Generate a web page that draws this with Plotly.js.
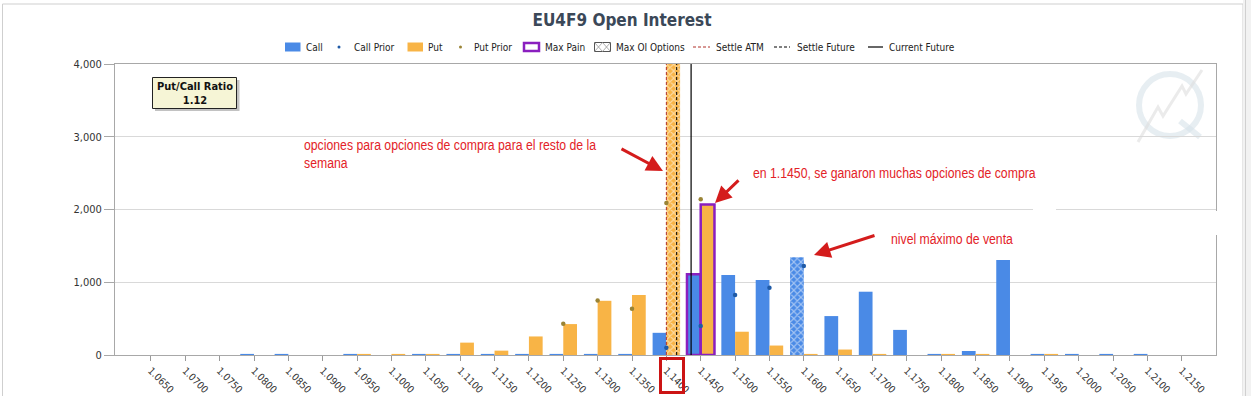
<!DOCTYPE html>
<html>
<head>
<meta charset="utf-8">
<script src="https://cdn.plot.ly/plotly-3.0.1.min.js"></script>
<style>
  html, body { margin: 0; padding: 0; background: #ffffff; }
  #chart { width: 1251px; height: 396px; }
</style>
</head>
<body>
<div id="chart"></div>
<script>
// ---------------- data ----------------
const strikes = [1.0650, 1.0700, 1.0750, 1.0800, 1.0850, 1.0900, 1.0950, 1.1000, 1.1050, 1.1100,
                 1.1150, 1.1200, 1.1250, 1.1300, 1.1350, 1.1400, 1.1450, 1.1500, 1.1550, 1.1600,
                 1.1650, 1.1700, 1.1750, 1.1800, 1.1850, 1.1900, 1.1950, 1.2000, 1.2050, 1.2100, 1.2150];
const tickLabels = ["1.0650", "1.0700", "1.0750", "1.0800", "1.0850", "1.0900", "1.0950", "1.1000", "1.1050", "1.1100",
                    "1.1150", "1.1200", "1.1250", "1.1300", "1.1350", "1.1400", "1.1450", "1.1500", "1.1550", "1.1600",
                    "1.1650", "1.1700", "1.1750", "1.1800", "1.1850", "1.1900", "1.1950", "1.2000", "1.2050", "1.2100", "1.2150"];
const callOI = [0, 0, 0, 15, 15, 0, 15, 0, 15, 15,
                15, 15, 15, 15, 15, 305, 1110, 1100, 1030, 1345,
                535, 870, 345, 15, 55, 1305, 15, 15, 15, 15, 0];
const putOI  = [0, 0, 0, 0, 0, 0, 15, 15, 15, 170,
                60, 255, 425, 745, 825, 4400, 2070, 320, 130, 15,
                75, 15, 0, 15, 15, 0, 15, 0, 0, 0, 0];
const callPrior = [null, null, null, null, null, null, null, null, null, null,
                   null, null, null, null, null, 100, 400, 825, 925, 1225,
                   null, null, null, null, null, null, null, null, null, null, null];
const putPrior  = [null, null, null, null, null, null, null, null, null, null,
                   null, null, 430, 750, 635, 2090, 2140, null, null, null,
                   null, null, null, null, null, null, null, null, null, null, null];
const maxPainStrike = 1.1450;
const maxOICallStrike = 1.1600;
const maxOIPutStrike = 1.1400;
const settleATM = 1.1400;
const settleFuture = 1.1415;
const currentFuture = 1.1436;
const putCallRatio = "1.12";
const yTicks = [0, 1000, 2000, 3000, 4000];

// ---------------- styling ----------------
const FONT = "'DejaVu Sans Condensed', 'DejaVu Sans', sans-serif";
const RED_FONT = "'Liberation Sans', Arial, sans-serif";
const NARROW = 0.875;
const CALL_COLOR = '#4a8ae6';
const PUT_COLOR = '#f8b446';
const CALL_PRIOR_COLOR = '#1f5aa6';
const PUT_PRIOR_COLOR = '#9a8436';
const PURPLE = '#8a1fbf';
const RED = '#e32227';
const STEP = 0.005;
const BARW = 0.4 * STEP;

// plot area in pixels
const L = 115, T = 64, W = 1101, H = 291;
const px = x => (x - L) / W;
const py = y => (T + H - y) / H;

const isEq = (a, b) => Math.abs(a - b) < 1e-9;
const callPattern = strikes.map(s => isEq(s, maxOICallStrike) ? 'x' : '');
const putPattern = strikes.map(s => isEq(s, maxOIPutStrike) ? 'x' : '');
const painLineW = strikes.map(s => isEq(s, maxPainStrike) ? 2.5 : 0);
const painLineC = strikes.map(s => isEq(s, maxPainStrike) ? PURPLE : 'rgba(0,0,0,0)');

const traces = [
  {
    type: 'bar', name: 'Call', x: strikes, y: callOI, width: BARW, offset: -BARW,
    marker: { color: CALL_COLOR, line: { width: painLineW, color: painLineC },
              pattern: { shape: callPattern, fillmode: 'overlay', fgcolor: '#ffffff', size: 5, solidity: 0.4 } },
    hoverinfo: 'skip'
  },
  {
    type: 'bar', name: 'Put', x: strikes, y: putOI, width: BARW, offset: 0,
    marker: { color: PUT_COLOR, line: { width: painLineW, color: painLineC },
              pattern: { shape: putPattern, fillmode: 'overlay', fgcolor: '#ffffff', size: 5, solidity: 0.4 } },
    hoverinfo: 'skip'
  },
  {
    type: 'scatter', mode: 'lines', name: 'Settle ATM', x: [settleATM, settleATM], y: [0, 4000],
    line: { color: '#b0302a', width: 1, dash: '3px,2px' }, hoverinfo: 'skip'
  },
  {
    type: 'scatter', mode: 'lines', name: 'Settle Future', x: [settleFuture, settleFuture], y: [0, 4000],
    line: { color: '#000000', width: 1, dash: '3px,2px' }, hoverinfo: 'skip'
  },
  {
    type: 'scatter', mode: 'lines', name: 'Current Future', x: [currentFuture, currentFuture], y: [0, 4000],
    line: { color: '#000000', width: 1.2 }, hoverinfo: 'skip'
  },
  {
    type: 'scatter', mode: 'markers', name: 'Call Prior', x: strikes, y: callPrior,
    marker: { color: CALL_PRIOR_COLOR, size: 4.5 }, hoverinfo: 'skip'
  },
  {
    type: 'scatter', mode: 'markers', name: 'Put Prior', x: strikes, y: putPrior,
    marker: { color: PUT_PRIOR_COLOR, size: 4.5 }, hoverinfo: 'skip'
  }
];

// ---------------- custom legend + decorations ----------------
const shapes = [];
const annotations = [];
const legY = 47;

function rectPx(x0, y0, x1, y1, opts) {
  shapes.push(Object.assign({ type: 'rect', xref: 'paper', yref: 'paper',
    x0: px(x0), x1: px(x1), y0: py(y1), y1: py(y0), layer: 'above' }, opts));
}
function linePx(x0, y0, x1, y1, opts) {
  shapes.push(Object.assign({ type: 'line', xref: 'paper', yref: 'paper',
    x0: px(x0), x1: px(x1), y0: py(y0), y1: py(y1), layer: 'above' }, opts));
}
function textPx(x, y, text, opts) {
  annotations.push(Object.assign({ xref: 'paper', yref: 'paper', x: px(x), y: py(y), text: text,
    showarrow: false, xanchor: 'left', yanchor: 'middle',
    font: { family: FONT, size: 10, color: '#222222' } }, opts));
}

// outer frame
rectPx(2.5, 4, 1243, 430, { line: { color: '#cfcfcf', width: 1 }, fillcolor: 'rgba(0,0,0,0)', layer: 'below' });
rectPx(1243, 0, 1251, 396, { line: { width: 0 }, fillcolor: '#f2f2f2', layer: 'below' });
linePx(1245.5, 0, 1245.5, 396, { line: { color: '#d0d0d0', width: 1 }, layer: 'below' });

// watermark (faint)
shapes.push({ type: 'circle', xref: 'paper', yref: 'paper', x0: px(1139), x1: px(1201), y0: py(136), y1: py(74),
  line: { color: 'rgba(215,226,234,0.6)', width: 6 }, fillcolor: 'rgba(0,0,0,0)', layer: 'below' });
shapes.push({ type: 'path', xref: 'paper', yref: 'paper', layer: 'below',
  path: 'M' + px(1138) + ',' + py(142) + ' L' + px(1158) + ',' + py(107) + ' L' + px(1163) + ',' + py(116) +
        ' L' + px(1182) + ',' + py(86) + ' L' + px(1186) + ',' + py(94) + ' L' + px(1202) + ',' + py(70),
  line: { color: 'rgba(222,222,222,0.6)', width: 3 } });
linePx(1180, 121, 1200, 137, { line: { color: 'rgba(215,226,234,0.6)', width: 6 }, layer: 'below' });

// legend: Call
rectPx(285, 42.5, 300.5, 51.5, { line: { width: 0 }, fillcolor: CALL_COLOR });
textPx(303.5, legY, 'Call');
// Call Prior
shapes.push({ type: 'circle', xref: 'paper', yref: 'paper', x0: px(337.5), x1: px(340.5), y0: py(48.5), y1: py(45.5),
  fillcolor: CALL_PRIOR_COLOR, line: { width: 0 }, layer: 'above' });
textPx(351.5, legY, 'Call Prior');
// Put
rectPx(407.5, 42.5, 423, 51.5, { line: { width: 0 }, fillcolor: PUT_COLOR });
textPx(426, legY, 'Put');
// Put Prior
shapes.push({ type: 'circle', xref: 'paper', yref: 'paper', x0: px(459), x1: px(462), y0: py(48.5), y1: py(45.5),
  fillcolor: PUT_PRIOR_COLOR, line: { width: 0 }, layer: 'above' });
textPx(472, legY, 'Put Prior');
// Max Pain
rectPx(524, 43, 539, 51, { line: { color: PURPLE, width: 2.5 }, fillcolor: '#ffffff' });
textPx(543, legY, 'Max Pain');
// Max OI Options
rectPx(594.5, 42.5, 610.5, 51.5, { line: { color: '#555555', width: 1 }, fillcolor: '#ffffff' });
linePx(594.5, 42.5, 602.5, 51.5, { line: { color: '#999999', width: 0.8 } });
linePx(602.5, 42.5, 610.5, 51.5, { line: { color: '#999999', width: 0.8 } });
linePx(594.5, 51.5, 602.5, 42.5, { line: { color: '#999999', width: 0.8 } });
linePx(602.5, 51.5, 610.5, 42.5, { line: { color: '#999999', width: 0.8 } });
textPx(614, legY, 'Max OI Options');
// Settle ATM
linePx(693, legY, 710, legY, { line: { color: '#b0302a', width: 1, dash: '3px,2px' } });
textPx(714, legY, 'Settle ATM');
// Settle Future
linePx(774, legY, 790, legY, { line: { color: '#000000', width: 1, dash: '3px,2px' } });
textPx(794.5, legY, 'Settle Future');
// Current Future
linePx(868, legY, 883, legY, { line: { color: '#000000', width: 1.2 } });
textPx(887, legY, 'Current Future');

// Put/Call ratio box
rectPx(155, 80, 239.5, 111, { line: { width: 0 }, fillcolor: 'rgba(120,120,120,0.45)' });
rectPx(152.5, 77.5, 236.5, 108.5, { line: { color: '#222222', width: 1 }, fillcolor: '#f6f5d6' });
annotations.push({ xref: 'paper', yref: 'paper', x: px(194.5), y: py(93), showarrow: false,
  xanchor: 'center', yanchor: 'middle', align: 'center',
  text: '<b>Put/Call Ratio</b><br><b>' + putCallRatio + '</b>',
  font: { family: FONT, size: 11, color: '#111111' } });

// red notes (squeezed horizontally after render to mimic a narrow face)
annotations.push({ xref: 'paper', yref: 'paper', x: px(302), y: py(135), showarrow: false,
  xanchor: 'left', yanchor: 'top', align: 'left', name: 'narrow',
  text: 'opciones para opciones de compra para el resto de la<br>semana',
  font: { family: RED_FONT, size: 14, color: RED } });
annotations.push({ xref: 'paper', yref: 'paper', x: px(751), y: py(173), showarrow: false,
  xanchor: 'left', yanchor: 'middle', align: 'left', name: 'narrow',
  text: 'en 1.1450, se ganaron muchas opciones de compra',
  font: { family: RED_FONT, size: 14, color: RED } });
annotations.push({ xref: 'paper', yref: 'paper', x: px(889), y: py(238.5), showarrow: false,
  xanchor: 'left', yanchor: 'middle', align: 'left', name: 'narrow',
  text: 'nivel máximo de venta',
  font: { family: RED_FONT, size: 14, color: RED } });

// red arrows
function arrowPx(tx, ty, hx, hy) {
  annotations.push({ xref: 'paper', yref: 'paper', x: px(hx), y: py(hy), ax: tx - hx, ay: ty - hy,
    axref: 'pixel', ayref: 'pixel', text: '', showarrow: true, arrowhead: 2, arrowsize: 1.1,
    arrowwidth: 3, arrowcolor: '#d41c1c', standoff: 0 });
}
arrowPx(620, 148, 663, 171);
arrowPx(740, 179, 715, 203);
arrowPx(876, 235, 814, 255);

// red box around 1.1400 label
rectPx(660.5, 358.5, 683.5, 392.5, { line: { color: '#cc1414', width: 3 }, fillcolor: 'rgba(0,0,0,0)' });

// white-out artifacts from the edited screenshot
rectPx(1033, 206, 1056, 212, { line: { width: 0 }, fillcolor: '#ffffff' });
rectPx(1208, 211, 1224, 235, { line: { width: 0 }, fillcolor: '#ffffff' });

const layout = {
  width: 1251, height: 396,
  margin: { l: L, r: 1251 - L - W, t: T, b: 396 - T - H, pad: 0 },
  paper_bgcolor: 'rgba(0,0,0,0)', plot_bgcolor: '#ffffff',
  showlegend: false,
  barmode: 'overlay',
  title: { text: '<b>EU4F9 Open Interest</b>', x: 622 / 1251, xanchor: 'center', xref: 'container',
           y: 1 - 20 / 396, yref: 'container', yanchor: 'middle',
           font: { family: FONT, size: 17, color: '#3b4858' } },
  xaxis: {
    type: 'linear',
    range: [strikes[0] - 1.045 * STEP, strikes[strikes.length - 1] + 0.995 * STEP],
    tickmode: 'array', tickvals: strikes, ticktext: tickLabels, tickangle: 45,
    ticks: 'outside', ticklen: 5, tickcolor: '#9a9a9a', tickwidth: 1,
    showline: true, linecolor: '#a8a8a8', linewidth: 1, mirror: true,
    showgrid: false, zeroline: false,
    tickfont: { family: FONT, size: 10, color: '#333333' }
  },
  yaxis: {
    range: [0, 4000], tickmode: 'array', tickvals: yTicks, tickformat: ',d',
    ticks: 'outside', ticklen: 10, tickcolor: '#a8a8a8', tickwidth: 1,
    showline: true, linecolor: '#a8a8a8', linewidth: 1, mirror: true,
    showgrid: true, gridcolor: '#d9d9d9', gridwidth: 1, zeroline: false,
    tickfont: { family: FONT, size: 11, color: '#333333' }
  },
  shapes: shapes,
  annotations: annotations
};

Plotly.newPlot('chart', traces, layout, { displayModeBar: false, staticPlot: true }).then(function (gd) {
  // narrow the red note text (the original uses a condensed face that is not installed)
  const texts = gd.querySelectorAll('text.annotation-text');
  texts.forEach(function (t) {
    const s = t.textContent || '';
    if (!(s.indexOf('opciones') >= 0 || s.indexOf('nivel') >= 0)) return;
    const lines = t.querySelectorAll('tspan.line');
    const targets = lines.length ? Array.prototype.slice.call(lines) : [t];
    targets.forEach(function (el) {
      const len = el.getComputedTextLength();
      if (len > 0) {
        el.setAttribute('textLength', (len * NARROW).toFixed(1));
        el.setAttribute('lengthAdjust', 'spacingAndGlyphs');
      }
    });
  });
});
</script>
</body>
</html>
